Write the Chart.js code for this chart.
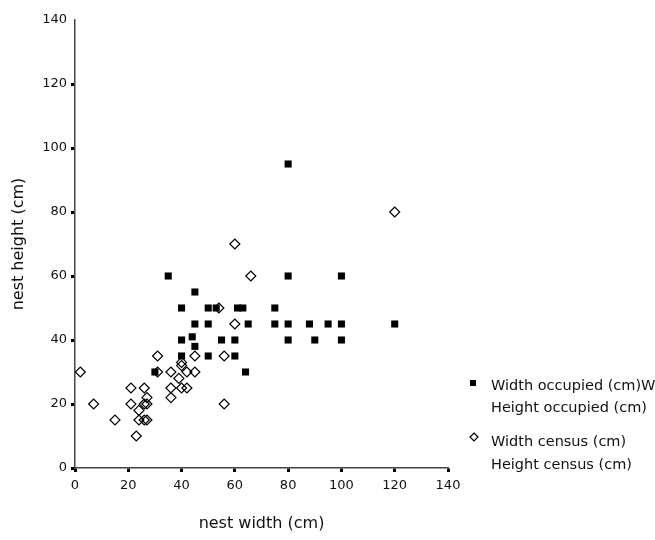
<!DOCTYPE html>
<html>
<head>
<meta charset="utf-8">
<script src="https://cdn.jsdelivr.net/npm/chart.js@4.4.1/dist/chart.umd.min.js"></script>
<style>
  body { margin: 0; background: #fff; overflow: hidden; }
  #wrap { width: 655px; height: 540px; position: relative; }
</style>
</head>
<body>
<div id="wrap"><canvas id="chart"></canvas></div>
<script>
// occupied nests
const widthOccupied  = [80, 35, 80, 100, 45, 40, 50, 53, 61, 63, 75, 45, 50, 65, 75, 80, 88, 95, 100, 120, 44, 40, 55, 60, 80, 90, 100, 45, 40, 50, 60, 64, 30];
const heightOccupied = [95, 60, 60, 60, 55, 50, 50, 50, 50, 50, 50, 45, 45, 45, 45, 45, 45, 45, 45, 45, 41, 40, 40, 40, 40, 40, 40, 38, 35, 35, 35, 30, 30];

// census nests
const widthCensus  = [2, 7, 15, 21, 21, 23, 24, 24, 26, 27, 26, 27, 26, 27, 31, 31, 36, 36, 36, 39, 40, 40, 42, 40, 42, 45, 45, 54, 56, 56, 60, 66, 60, 120];
const heightCensus = [30, 20, 15, 25, 20, 10, 18, 15, 15, 15, 25, 22, 20, 20, 35, 30, 30, 25, 22, 28, 32, 33, 30, 25, 25, 35, 30, 50, 35, 20, 45, 60, 70, 80];

const ticksX = [0, 20, 40, 60, 80, 100, 120, 140];
const ticksY = [0, 20, 40, 60, 80, 100, 120, 140];

const legendItems = [
  { lines: ["Width occupied (cm)W", "Height occupied (cm)"], style: "rect" },
  { lines: ["Width census (cm)", "Height census (cm)"], style: "rectRot" }
];

function toPoints(xs, ys) {
  return xs.map((x, i) => ({ x: x, y: ys[i] }));
}

const FONT = "'DejaVu Sans', sans-serif";

// **legend drawn at the right side**
const sideLegend = {
  id: "sideLegend",
  afterDraw(chart) {
    const ctx = chart.ctx;
    ctx.save();
    ctx.font = "14.5px " + FONT;
    ctx.textBaseline = "middle";
    const rows = [{ my: 383, ty: [386, 408] }, { my: 437, ty: [442, 465] }];
    legendItems.forEach((item, i) => {
      const r = rows[i];
      if (item.style === "rect") {
        ctx.fillStyle = "#000";
        ctx.fillRect(470, r.my - 3, 6, 6);
      } else {
        ctx.strokeStyle = "#000";
        ctx.lineWidth = 1.2;
        ctx.beginPath();
        ctx.moveTo(474, r.my - 4);
        ctx.lineTo(478, r.my);
        ctx.lineTo(474, r.my + 4);
        ctx.lineTo(470, r.my);
        ctx.closePath();
        ctx.stroke();
      }
      ctx.fillStyle = "#111";
      item.lines.forEach((t, j) => ctx.fillText(t, 491, r.ty[j]));
    });
    ctx.restore();
  }
};

new Chart(document.getElementById("chart"), {
  type: "scatter",
  data: {
    datasets: [
      {
        label: "Width occupied (cm)",
        data: toPoints(widthOccupied, heightOccupied),
        pointStyle: "rect",
        pointRadius: 5,
        pointHoverRadius: 5,
        backgroundColor: "#000",
        borderColor: "#000",
        borderWidth: 0
      },
      {
        label: "Width census (cm)",
        data: toPoints(widthCensus, heightCensus),
        pointStyle: "rectRot",
        pointRadius: 5,
        pointHoverRadius: 5,
        backgroundColor: "rgba(0,0,0,0)",
        borderColor: "#000",
        borderWidth: 1.2
      }
    ]
  },
  options: {
    responsive: true,
    maintainAspectRatio: false,
    animation: false,
    events: [],
    layout: { padding: { left: 0, right: 207, top: 20, bottom: 0 } },
    plugins: { legend: { display: false }, tooltip: { enabled: false } },
    scales: {
      x: {
        type: "linear",
        min: 0,
        max: 140,
        afterBuildTicks: s => { s.ticks = ticksX.map(v => ({ value: v })); },
        afterFit: s => { s.height = 72; },
        border: { display: true, color: "#444", width: 1.5 },
        grid: { display: true, drawOnChartArea: false, drawTicks: true, tickLength: 4, tickWidth: 3, tickColor: "#000" },
        ticks: { color: "#111", padding: 6, font: { family: FONT, size: 13 }, maxRotation: 0 },
        title: { display: true, text: "nest width (cm)", color: "#111", font: { family: FONT, size: 16 }, padding: { top: 0, bottom: 7 } }
      },
      y: {
        type: "linear",
        min: 0,
        max: 140,
        afterBuildTicks: s => { s.ticks = ticksY.map(v => ({ value: v })); },
        afterFit: s => { s.width = 75; },
        border: { display: true, color: "#444", width: 1.5 },
        grid: {
          display: true, drawOnChartArea: false, drawTicks: true, tickLength: 4, tickWidth: 3,
          tickColor: c => (c.tick && c.tick.value === 140 ? "rgba(0,0,0,0)" : "#000")
        },
        ticks: { color: "#111", padding: 4, font: { family: FONT, size: 13 } },
        title: { display: true, text: "nest height (cm)", color: "#111", font: { family: FONT, size: 16 }, padding: { top: 9, bottom: 0 } }
      }
    }
  },
  plugins: [sideLegend]
});
</script>
</body>
</html>
